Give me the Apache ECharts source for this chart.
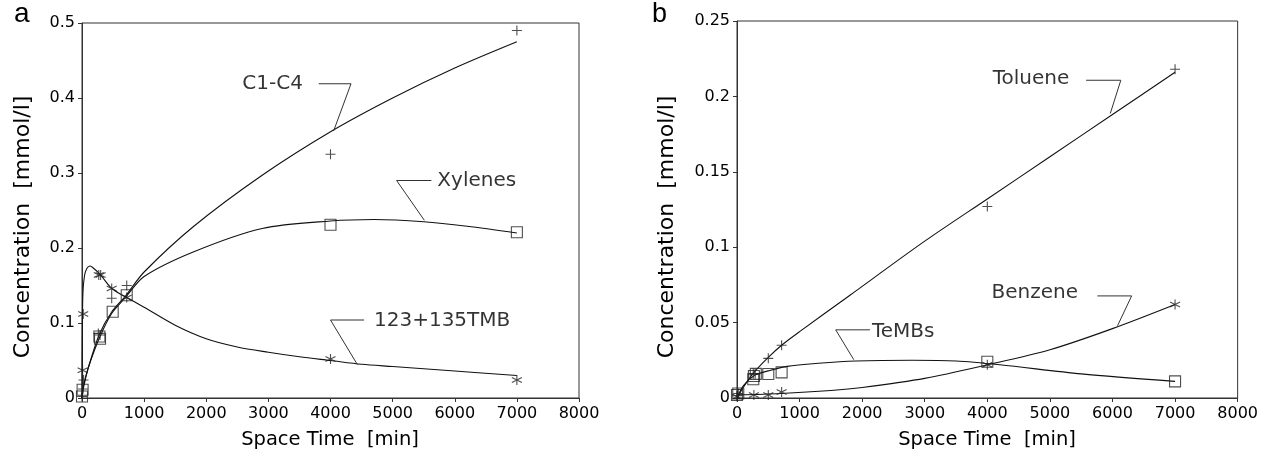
<!DOCTYPE html>
<html>
<head>
<meta charset="utf-8">
<script src="https://cdn.jsdelivr.net/npm/echarts@6/dist/echarts.min.js"></script>
<style>
  html, body { margin: 0; padding: 0; background: #fff; }
  #main { width: 1261px; height: 454px; }
</style>
</head>
<body>
<div id="main"></div>
<script>
// panel a: measured points [space time min, conc mmol/l]
const c14Pts = [[0, 0.002], [15, 0.012], [25, 0.024], [263, 0.086], [290, 0.084], [478, 0.133], [720, 0.15], [4000, 0.325], [7000, 0.49]];
const xylPts = [[0, 0.002], [10, 0.011], [280, 0.082], [290, 0.079], [494, 0.115], [720, 0.137], [4000, 0.231], [7000, 0.221]];
const tmbPts = [[10, 0.037], [20, 0.112], [270, 0.164], [300, 0.164], [478, 0.146], [720, 0.134], [4000, 0.052], [7000, 0.024]];
// panel a: fitted curves
const c14Fit = [[0, 0], [20, 0.012], [100, 0.04], [280, 0.085], [480, 0.115], [700, 0.136], [1000, 0.168], [1800, 0.229], [2900, 0.297], [4000, 0.355], [5000, 0.4], [6000, 0.44], [7000, 0.475]];
const xylFit = [[0, 0], [20, 0.015], [100, 0.04], [280, 0.08], [480, 0.113], [700, 0.134], [1000, 0.162], [1800, 0.195], [2900, 0.226], [4000, 0.236], [4700, 0.238], [5500, 0.235], [6200, 0.229], [7000, 0.22]];
const tmbFit = [[0, 0], [5, 0.09], [15, 0.14], [40, 0.163], [80, 0.173], [130, 0.176], [200, 0.172], [290, 0.165], [480, 0.146], [720, 0.134], [1000, 0.121], [1500, 0.097], [2000, 0.079], [2500, 0.068], [3000, 0.061], [3500, 0.055], [4000, 0.05], [4500, 0.045], [5000, 0.042], [6000, 0.036], [7000, 0.03]];

// panel b: measured points
const tolPts = [[0, 0.0015], [20, 0.003], [260, 0.016], [290, 0.016], [500, 0.0263], [713, 0.035], [4000, 0.127], [7000, 0.218]];
const benPts = [[0, 0.001], [270, 0.002], [500, 0.002], [713, 0.004], [4000, 0.022], [7000, 0.062]];
const temPts = [[0, 0.002], [20, 0.003], [260, 0.0124], [270, 0.0146], [300, 0.016], [500, 0.0159], [713, 0.017], [4000, 0.024], [7000, 0.011]];
// panel b: fitted curves
const tolFit = [[0, 0], [100, 0.007], [260, 0.0165], [500, 0.027], [713, 0.035], [1000, 0.044], [1800, 0.068], [3000, 0.104], [4000, 0.132], [5000, 0.16], [6000, 0.188], [7000, 0.216]];
const benFit = [[0, 0.002], [700, 0.003], [1500, 0.005], [2000, 0.007], [3000, 0.013], [4000, 0.022], [5000, 0.032], [6000, 0.046], [7000, 0.062]];
const temFit = [[0, 0], [100, 0.008], [280, 0.015], [500, 0.018], [800, 0.021], [1300, 0.023], [1900, 0.0245], [2800, 0.025], [3500, 0.0245], [4200, 0.022], [5500, 0.016], [7000, 0.011]];

const xTicks = [0, 8000, 1000];
const yTicksA = [0, 0.5, 0.1];
const yTicksB = [0, 0.25, 0.05];

// curve labels: text, text anchor, leader polyline (data coords)
const notesA = [
  { text: 'C1-C4', at: [2580, 0.419], leader: [[3810, 0.419], [4330, 0.419], [4050, 0.356]] },
  { text: 'Xylenes', at: [5720, 0.29], leader: [[5624, 0.29], [5064, 0.29], [5510, 0.237]] },
  { text: '123+135TMB', at: [4700, 0.103], leader: [[4541, 0.104], [4000, 0.104], [4433, 0.0445]] }
];
const notesB = [
  { text: 'Toluene', at: [4086, 0.2118], leader: [[5579, 0.2107], [6133, 0.2107], [5965, 0.1887]] },
  { text: 'Benzene', at: [4067, 0.0695], leader: [[5759, 0.0677], [6306, 0.0677], [6081, 0.0479]] },
  { text: 'TeMBs', at: [2156, 0.0441], leader: [[2124, 0.0452], [1577, 0.0452], [1866, 0.0254]] }
];

const FONT = 'DejaVu Sans';
const INK = '#111';
const PLUS = 'path://M5,0L5,10M0,5L10,5';
const STAR = 'path://M5,0L5,10M0.7,2.5L9.3,7.5M9.3,2.5L0.7,7.5';
const X_TITLE = 'Space Time  [min]';
const Y_TITLE = 'Concentration  [mmol/l]';

const chart = echarts.init(document.getElementById('main'), null, { renderer: 'canvas' });

function xAxis(idx) {
  return {
    gridIndex: idx, type: 'value',
    min: xTicks[0], max: xTicks[1], interval: xTicks[2],
    axisLine: { lineStyle: { color: '#333' } },
    axisTick: { length: 4, lineStyle: { color: '#333' } },
    axisLabel: { fontFamily: FONT, fontSize: 16, color: '#000', margin: 8,
      formatter: v => String(v) },
    splitLine: { show: false }
  };
}
function yAxis(idx, ticks) {
  return {
    gridIndex: idx, type: 'value',
    min: ticks[0], max: ticks[1], interval: ticks[2],
    axisLine: { lineStyle: { color: '#333' } },
    axisTick: { length: 4, lineStyle: { color: '#333' } },
    axisLabel: { fontFamily: FONT, fontSize: 16, color: '#000', margin: 7,
      formatter: v => String(+v.toFixed(2)) },
    splitLine: { show: false }
  };
}
function fit(data, idx) {
  return { type: 'line', xAxisIndex: idx, yAxisIndex: idx, data: data, smooth: 0.3,
    showSymbol: false, silent: true, lineStyle: { color: INK, width: 1.1 }, z: 2 };
}
function pts(data, idx, symbol, size) {
  return { type: 'scatter', xAxisIndex: idx, yAxisIndex: idx, data: data,
    symbol: symbol, symbolSize: size, silent: true,
    itemStyle: { color: 'transparent', borderColor: '#222', borderWidth: 1.1 }, z: 3 };
}
function notes(list, idx) {
  const out = [];
  list.forEach(n => {
    out.push({ type: 'line', xAxisIndex: idx, yAxisIndex: idx, data: n.leader,
      showSymbol: false, silent: true, lineStyle: { color: '#333', width: 1 } });
    out.push({ type: 'scatter', xAxisIndex: idx, yAxisIndex: idx, data: [n.at],
      symbolSize: 0, silent: true,
      label: { show: true, position: 'right', distance: 0, formatter: n.text,
        fontFamily: FONT, fontSize: 20, color: '#000' } });
  });
  return out;
}
function titles(cx, ycx) {
  return [
    { type: 'text', x: cx, y: 440, silent: true,
      style: { text: X_TITLE, font: '19.5px "DejaVu Sans"', fill: '#000', align: 'center', verticalAlign: 'middle' } },
    { type: 'text', x: ycx, y: 227, rotation: Math.PI / 2, silent: true,
      style: { text: Y_TITLE, font: '22px "DejaVu Sans"', fill: '#000', align: 'center', verticalAlign: 'middle' } }
  ];
}

const option = {
  backgroundColor: '#fff',
  animation: false,
  grid: [
    { left: 82, top: 23, width: 497, height: 375, show: true, borderColor: '#333', borderWidth: 1 },
    { left: 737, top: 21, width: 501, height: 377, show: true, borderColor: '#333', borderWidth: 1 }
  ],
  xAxis: [xAxis(0), xAxis(1)],
  yAxis: [yAxis(0, yTicksA), yAxis(1, yTicksB)],
  graphic: [
    { type: 'text', x: 14, y: 28, style: { text: 'a', font: '28px "Liberation Sans"', fill: '#000', verticalAlign: 'bottom' } },
    { type: 'text', x: 652, y: 28, style: { text: 'b', font: '27px "Liberation Sans"', fill: '#000', verticalAlign: 'bottom' } }
  ].concat(titles(330, 23), titles(987, 667)),
  series: [
    fit(c14Fit, 0), fit(xylFit, 0), fit(tmbFit, 0),
    pts(c14Pts, 0, PLUS, 10), pts(xylPts, 0, 'rect', 11), pts(tmbPts, 0, STAR, 10),
    fit(tolFit, 1), fit(benFit, 1), fit(temFit, 1),
    pts(tolPts, 1, PLUS, 10), pts(benPts, 1, STAR, 10), pts(temPts, 1, 'rect', 11)
  ].concat(notes(notesA, 0), notes(notesB, 1))
};

chart.setOption(option);
</script>
</body>
</html>
